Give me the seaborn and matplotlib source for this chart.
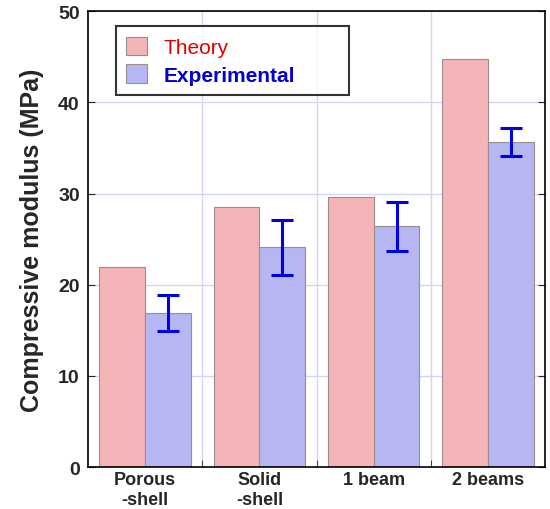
import pandas as pd
import matplotlib.pyplot as plt
import seaborn as sns

# values
groups = ["Porous\n-shell", "Solid\n-shell", "1 beam", "2 beams"]
theory = [22.0, 28.5, 29.6, 44.8]
experimental = [16.9, 24.1, 26.4, 35.7]
exp_err = [1.95, 3.0, 2.7, 1.55]

df = pd.DataFrame({
    "group": groups * 2,
    "modulus": theory + experimental,
    "kind": ["Theory"] * 4 + ["Experimental"] * 4,
})

sns.set_style("white")
plt.rcParams["font.family"] = ["Liberation Sans", "DejaVu Sans"]

fig = plt.figure(figsize=(5.5, 5.1), dpi=100)
ax = fig.add_axes([0.16, 0.082, 0.831, 0.894])

sns.barplot(data=df, x="group", y="modulus", hue="kind",
            palette=["#f5b5b8", "#b5b6f2"], saturation=1, width=0.8,
            errorbar=None, edgecolor="#9c8c8c", linewidth=0.8, ax=ax, zorder=2)

# error bars on the experimental bars
exp_bars = ax.containers[1]
xs = [b.get_x() + b.get_width() / 2 for b in exp_bars]
hs = [b.get_height() for b in exp_bars]
ax.errorbar(xs, hs, yerr=exp_err, fmt="none", ecolor="#0000e0",
            elinewidth=2.2, capsize=8, capthick=2.2, zorder=3)

ax.set_ylim(0, 50)
ax.set_xlim(-0.5, 3.5)
ax.set_yticks([0, 10, 20, 30, 40, 50])
ax.set_xticks([0.5, 1.5, 2.5], minor=True)
ax.grid(True, which="major", axis="y", color="#d4d4f8", linewidth=1, zorder=0)
ax.grid(True, which="minor", axis="x", color="#d4d4f8", linewidth=1, zorder=0)
ax.set_axisbelow(True)

ax.tick_params(axis="y", which="major", direction="in", length=5, right=True,
               left=True, labelsize=14, pad=6)
ax.tick_params(axis="x", which="major", length=0, labelsize=13, pad=3)
ax.tick_params(axis="x", which="minor", direction="in", length=5, bottom=True)
for lbl in ax.get_yticklabels() + ax.get_xticklabels():
    lbl.set_fontweight("bold")

ax.set_xlabel("")
ax.set_ylabel("Compressive modulus (MPa)", fontsize=18, fontweight="bold",
              labelpad=10)

for sp in ax.spines.values():
    sp.set_color("black")
    sp.set_linewidth(1.2)

# legend stretched to the box size seen in the reference
leg = ax.legend(loc="upper left", bbox_to_anchor=(0.061, 0.811, 0.51, 0.156),
                mode="expand", fontsize=15, frameon=True, fancybox=False,
                handlelength=1.0, handleheight=1.0, borderpad=0.5,
                labelspacing=0.35, handletextpad=0.8, borderaxespad=0)
leg.get_frame().set_edgecolor("black")
leg.get_frame().set_linewidth(1.5)
texts = leg.get_texts()
texts[0].set_color("#e00000")
texts[1].set_color("#0000d0")
texts[1].set_fontweight("bold")

fig.savefig("out.png", dpi=100)
